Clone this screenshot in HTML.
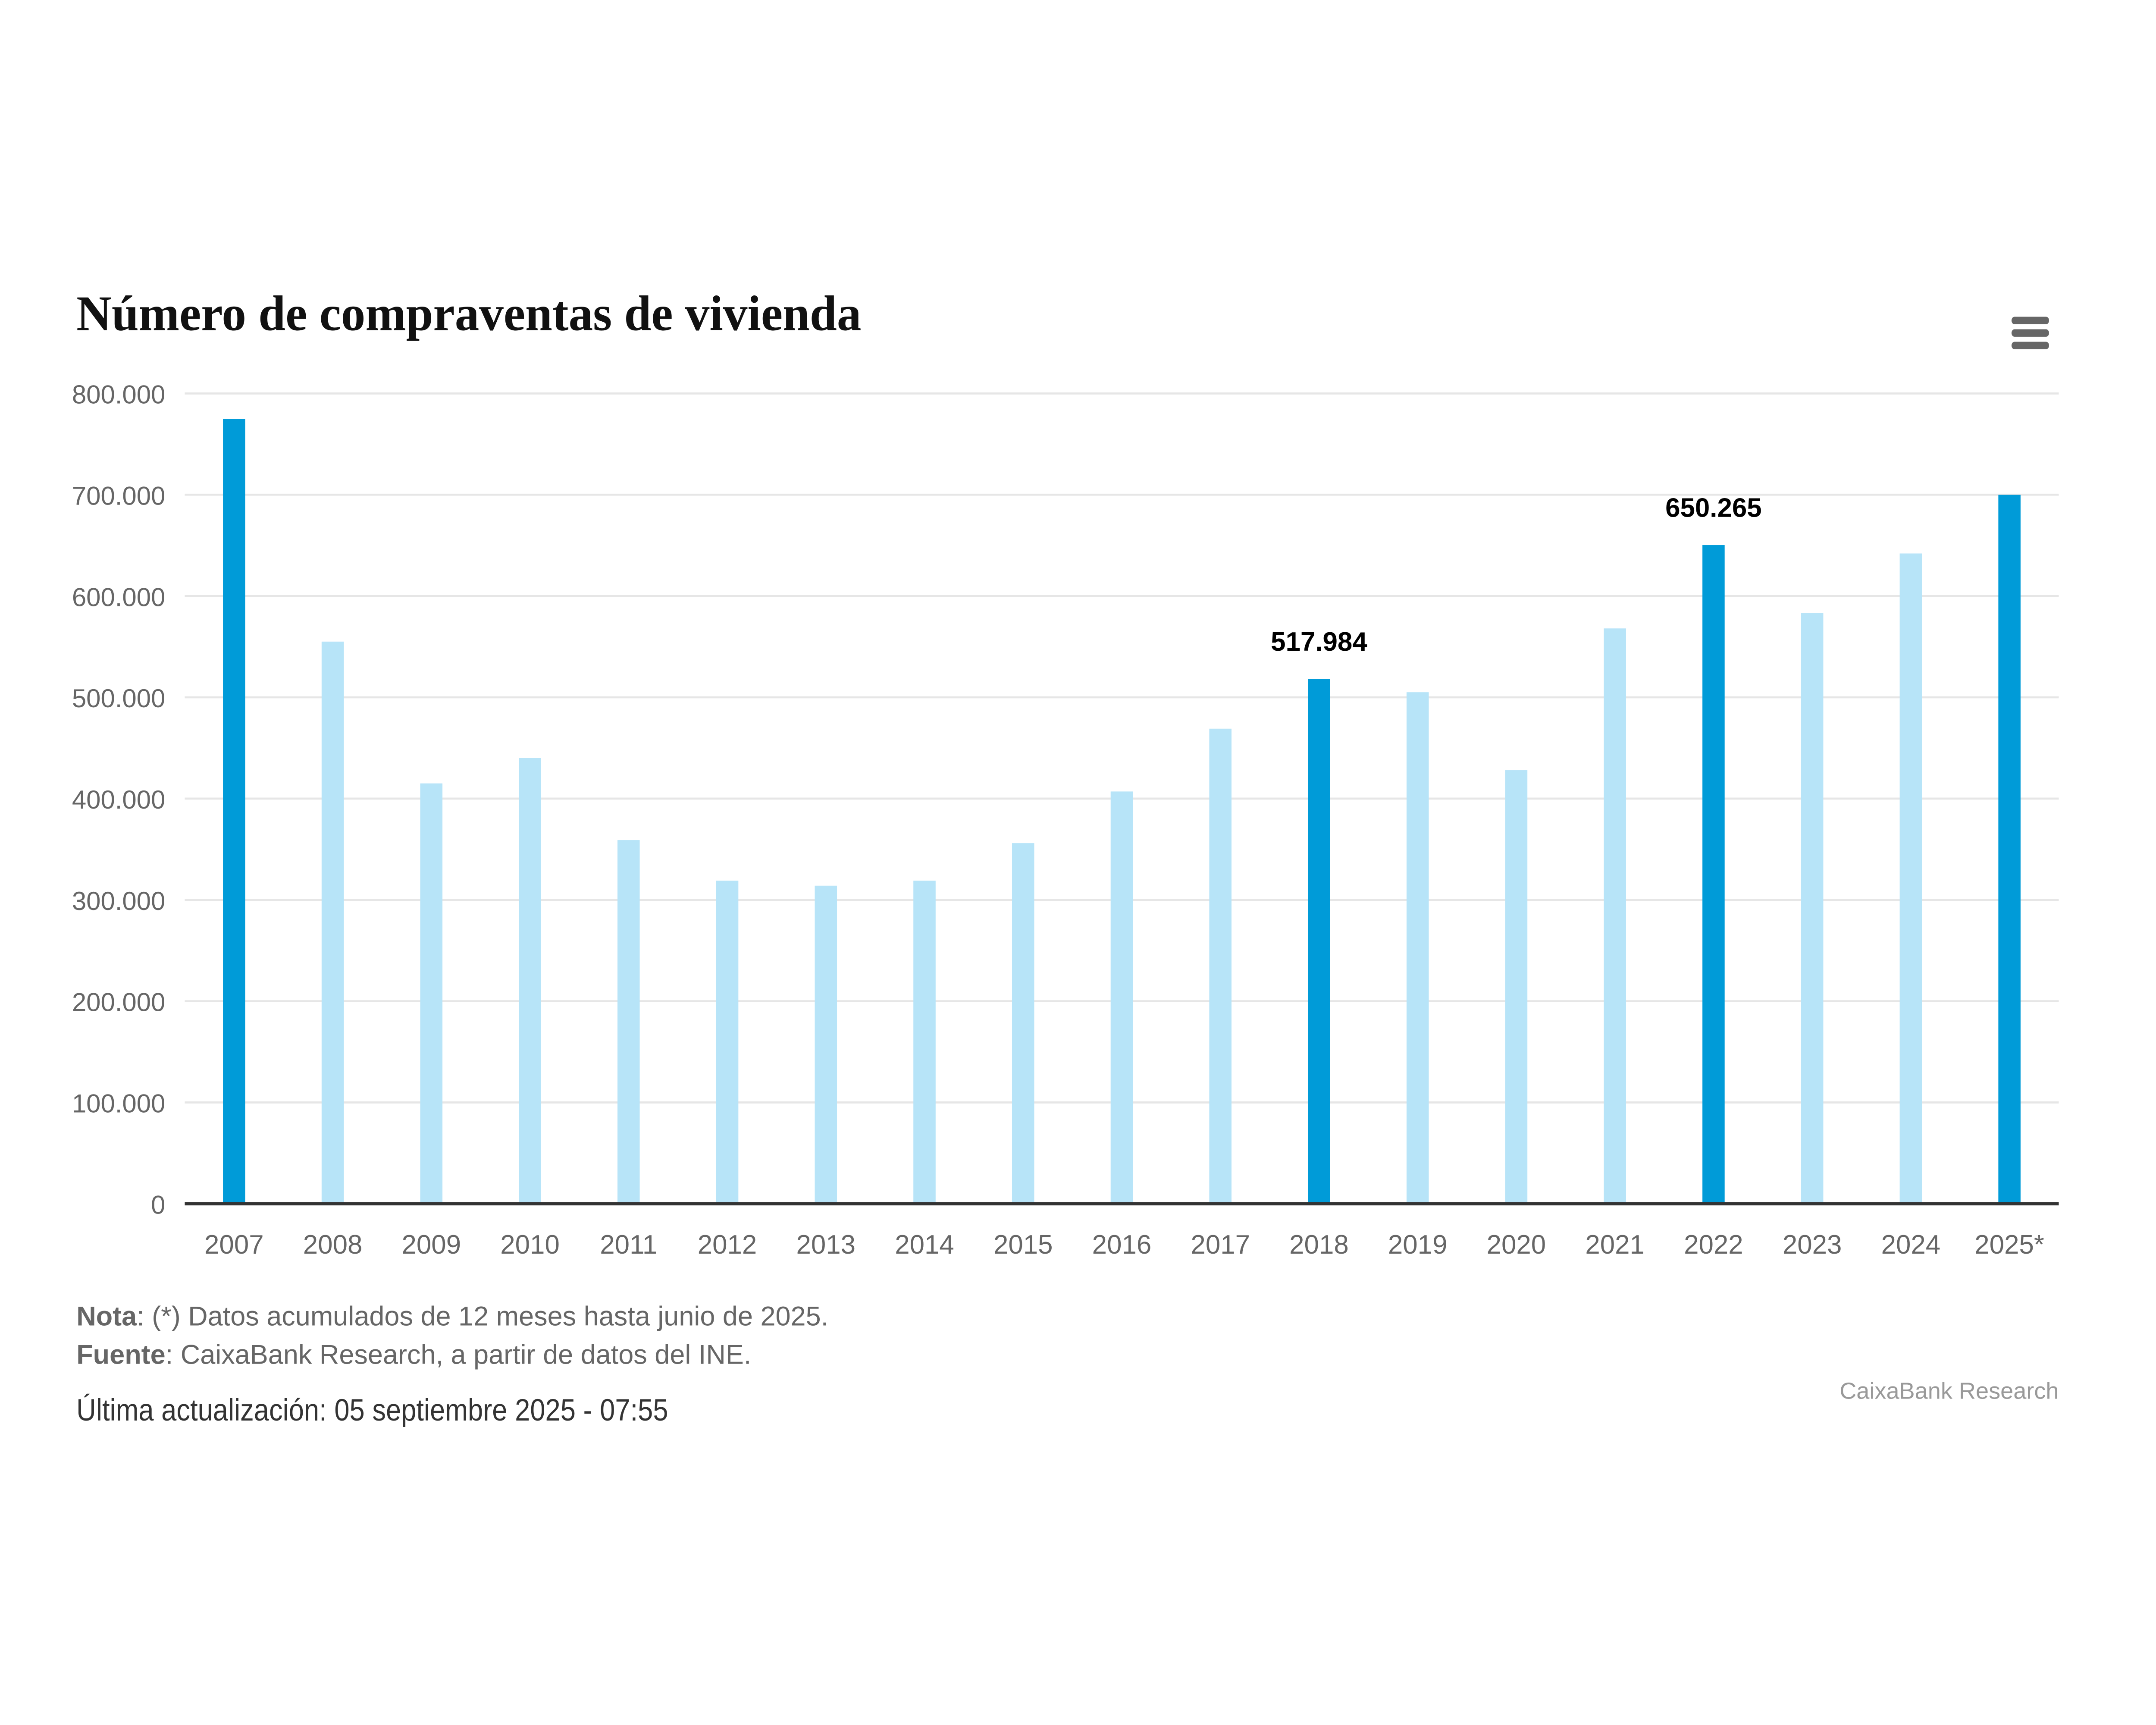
<!DOCTYPE html>
<html lang="es">
<head>
<meta charset="utf-8">
<meta name="viewport" content="width=device-width, initial-scale=1">
<style>
  html,body{margin:0;padding:0;background:#fff;width:100%;height:100%;overflow:hidden;}
  svg{display:block;width:100vw;height:100vh;}
</style>
</head>
<body>
<svg id="chart" viewBox="0 0 1552 1034.67" preserveAspectRatio="none" xmlns="http://www.w3.org/2000/svg">
  <rect x="0" y="0" width="1552" height="1034.67" fill="#ffffff"/>
  <text class="fixed" x="55" y="198" font-family="'Liberation Serif', serif" font-weight="bold" font-size="30" fill="#111" textLength="565" lengthAdjust="spacingAndGlyphs">Número de compraventas de vivienda</text>
  <g>
    <rect x="1446" y="188" width="30" height="24" fill="#fff"/>
    <rect x="1448" y="190" width="27" height="4.5" rx="2.2" fill="#666"/>
    <rect x="1448" y="197.5" width="27" height="4.5" rx="2.2" fill="#666"/>
    <rect x="1448" y="205" width="27" height="4.5" rx="2.2" fill="#666"/>
  </g>
  <g id="grid"></g>
  <g id="ylabels"></g>
  <g id="bars"></g>
  <g id="xlabels"></g>
  <g id="dlabels"></g>
  <line x1="133" x2="1482" y1="722" y2="722" stroke="#333" stroke-width="2"/>
  <text x="55" y="795" font-family="'Liberation Sans', sans-serif" font-size="16.3" fill="#666"><tspan font-weight="bold">Nota</tspan>: (*) Datos acumulados de 12 meses hasta junio de 2025.</text>
  <text x="55" y="818" font-family="'Liberation Sans', sans-serif" font-size="16.3" fill="#666"><tspan font-weight="bold">Fuente</tspan>: CaixaBank Research, a partir de datos del INE.</text>
  <text class="fixed" x="55" y="852" font-family="'Liberation Sans', sans-serif" font-size="18.5" fill="#333" textLength="426" lengthAdjust="spacingAndGlyphs">Última actualización: 05 septiembre 2025 - 07:55</text>
  <text x="1482" y="839" text-anchor="end" font-family="'Liberation Sans', sans-serif" font-size="14" fill="#999">CaixaBank Research</text>
</svg>
<script>
const categories = ['2007','2008','2009','2010','2011','2012','2013','2014','2015','2016','2017','2018','2019','2020','2021','2022','2023','2024','2025*'];
const values = [775000,555000,415000,440000,359000,319000,314000,319000,356000,407000,469000,517984,505000,428000,568000,650265,583000,642000,700000];
const highlighted = ['2007','2018','2022','2025*'];
const labelled = ['2018','2022'];
const yTicks = [0,100000,200000,300000,400000,500000,600000,700000,800000];
const yTickLabels = ['0','100.000','200.000','300.000','400.000','500.000','600.000','700.000','800.000'];

const NS = 'http://www.w3.org/2000/svg';
const plotLeft = 133, plotRight = 1482, plotTop = 236, plotBottom = 722, yMax = 800000;
function yScale(v){ return plotBottom - (v / yMax) * (plotBottom - plotTop); }
const band = (plotRight - plotLeft) / categories.length;
function xCenter(i){ return plotLeft + band * (i + 0.5); }
function fmt(v){ return String(v).replace(/\B(?=(\d{3})+(?!\d))/g, '.'); }

const grid = document.getElementById('grid');
const ylabels = document.getElementById('ylabels');
yTicks.forEach((t, i) => {
  const y = yScale(t);
  if (t > 0) {
    const ln = document.createElementNS(NS, 'line');
    
    
    ln.setAttribute('x1', plotLeft); ln.setAttribute('x2', plotRight);
    ln.setAttribute('y1', y); ln.setAttribute('y2', y);
    ln.setAttribute('stroke', '#e6e6e6'); ln.setAttribute('stroke-width', '1.2');
    grid.appendChild(ln);
  }
  const tx = document.createElementNS(NS, 'text');
  
  
  tx.setAttribute('x', 119); tx.setAttribute('y', y + 6);
  tx.setAttribute('text-anchor', 'end');
  tx.setAttribute('font-family', "'Liberation Sans', sans-serif");
  tx.setAttribute('font-size', '15.5');
  tx.setAttribute('fill', '#666');
  tx.textContent = yTickLabels[i];
  ylabels.appendChild(tx);
});

const bars = document.getElementById('bars');
const xl = document.getElementById('xlabels');
const dl = document.getElementById('dlabels');
const barW = 16;
categories.forEach((c, i) => {
  const v = values[i];
  const cx = xCenter(i);
  const r = document.createElementNS(NS, 'rect');
  
  
  r.setAttribute('x', cx - barW / 2);
  r.setAttribute('y', yScale(v));
  r.setAttribute('width', barW);
  r.setAttribute('height', plotBottom - yScale(v));
  r.setAttribute('fill', highlighted.includes(c) ? '#009bd8' : '#b7e4f8');
  bars.appendChild(r);

  const t = document.createElementNS(NS, 'text');
  
  
  t.setAttribute('x', cx); t.setAttribute('y', 752);
  t.setAttribute('text-anchor', 'middle');
  t.setAttribute('font-family', "'Liberation Sans', sans-serif");
  t.setAttribute('font-size', '16');
  t.setAttribute('fill', '#666');
  t.textContent = c;
  xl.appendChild(t);

  if (labelled.includes(c)) {
    const d = document.createElementNS(NS, 'text');
    
    
    d.setAttribute('x', cx); d.setAttribute('y', yScale(v) - 17);
    d.setAttribute('text-anchor', 'middle');
    d.setAttribute('font-family', "'Liberation Sans', sans-serif");
    d.setAttribute('font-weight', 'bold');
    d.setAttribute('font-size', '16');
    d.setAttribute('fill', '#000');
    d.textContent = fmt(v);
    dl.appendChild(d);
  }
});

// compensate for non-uniform viewport stretching so glyphs keep their proportions
(function(){
  const sx = window.innerWidth / 1552, sy = window.innerHeight / 1034.67;
  if (!sx || !sy) return;
  const k = sy / sx;
  if (Math.abs(k - 1) < 0.01) return;
  document.querySelectorAll('#chart text').forEach(el => {
    if (el.classList.contains('fixed')) return;
    const x = parseFloat(el.getAttribute('x'));
    el.setAttribute('transform', 'translate(' + x + ',0) scale(' + k + ',1) translate(' + (-x) + ',0)');
  });
})();
</script>
</body>
</html>
